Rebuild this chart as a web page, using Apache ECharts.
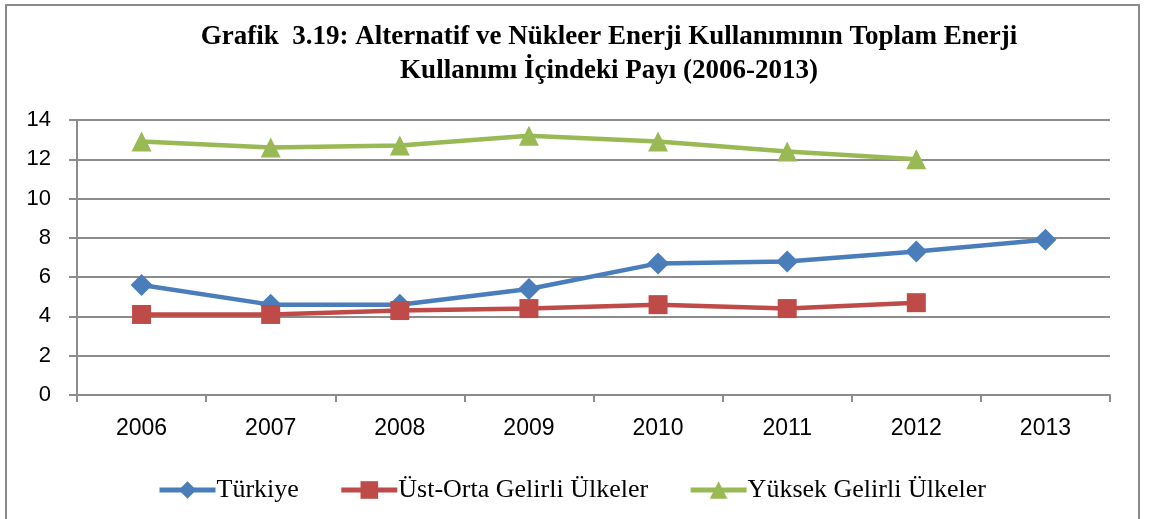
<!DOCTYPE html>
<html>
<head>
<meta charset="utf-8">
<script src="https://cdn.jsdelivr.net/npm/echarts@6/dist/echarts.min.js"></script>
<style>
    html, body { margin: 0; padding: 0; background: #fff; }
    #chart { width: 1149px; height: 519px; }
</style>
</head>
<body>
<div id="chart"></div>
<script>
const years = ['2006', '2007', '2008', '2009', '2010', '2011', '2012', '2013'];
const turkiye = [5.6, 4.6, 4.6, 5.4, 6.7, 6.8, 7.3, 7.9];
const ustOrta = [4.1, 4.1, 4.3, 4.4, 4.6, 4.4, 4.7, null];
const yuksek = [12.9, 12.6, 12.7, 13.2, 12.9, 12.4, 12.0, null];
const seriesNames = ['Türkiye', 'Üst-Orta Gelirli Ülkeler', 'Yüksek Gelirli Ülkeler'];
const titleText = 'Grafik  3.19: Alternatif ve Nükleer Enerji Kullanımının Toplam Enerji\nKullanımı İçindeki Payı (2006-2013)';

document.addEventListener("DOMContentLoaded", function() {
    const chart = echarts.init(document.getElementById('chart'));
    const gridColor = '#8c8c8c';
    const option = {
        animation: false,
        backgroundColor: '#fff',
        graphic: [{
            type: 'rect',
            silent: true,
            shape: { x: 6, y: 5, width: 1133, height: 530 },
            style: { fill: 'none', stroke: '#8a8a8a', lineWidth: 2 }
        }, {
            // two-line title, centred over the plot like the original
            type: 'text',
            silent: true,
            x: 609,
            y: 20,
            style: {
                text: titleText,
                textAlign: 'center',
                fontFamily: 'Liberation Serif',
                fontWeight: 'bold',
                fontSize: 27,
                lineHeight: 34,
                fill: '#000'
            }
        }],
        grid: {
            left: 77,
            right: 39,
            top: 120,
            bottom: 124
        },
        legend: {
            left: 152,
            top: 472,
            itemWidth: 56,
            itemHeight: 22,
            itemGap: 40,
            lineStyle: { width: 5 },
            textStyle: {
                fontFamily: 'Liberation Serif',
                fontSize: 26,
                color: '#000',
                padding: [0, 0, 0, -4]
            },
            data: seriesNames
        },
        xAxis: {
            type: 'category',
            data: years,
            boundaryGap: true,
            axisLine: { lineStyle: { color: gridColor, width: 2 } },
            axisTick: { show: true, length: 7, lineStyle: { color: gridColor, width: 2 } },
            axisLabel: {
                color: '#000',
                fontFamily: 'Liberation Sans',
                fontSize: 23,
                margin: 22
            }
        },
        yAxis: {
            type: 'value',
            min: 0,
            max: 14,
            interval: 2,
            axisLine: { show: true, lineStyle: { color: gridColor, width: 2 } },
            axisTick: { show: true, length: 8, lineStyle: { color: gridColor, width: 2 } },
            axisLabel: {
                color: '#000',
                fontFamily: 'Liberation Sans',
                fontSize: 22,
                margin: 26
            },
            splitLine: { lineStyle: { color: gridColor, width: 2 } }
        },
        series: [{
            name: seriesNames[0],
            type: 'line',
            data: turkiye,
            symbol: 'diamond',
            symbolSize: 22,
            lineStyle: { color: '#4A7EBB', width: 4.5 },
            itemStyle: { color: '#4A7EBB' }
        }, {
            name: seriesNames[1],
            type: 'line',
            data: ustOrta,
            symbol: 'rect',
            symbolSize: 19,
            lineStyle: { color: '#BE4B48', width: 4.5 },
            itemStyle: { color: '#BE4B48' }
        }, {
            name: seriesNames[2],
            type: 'line',
            data: yuksek,
            symbol: 'triangle',
            symbolSize: 20,
            lineStyle: { color: '#98B954', width: 4.5 },
            itemStyle: { color: '#98B954' }
        }]
    };

    chart.setOption(option);
});
</script>
</body>
</html>
